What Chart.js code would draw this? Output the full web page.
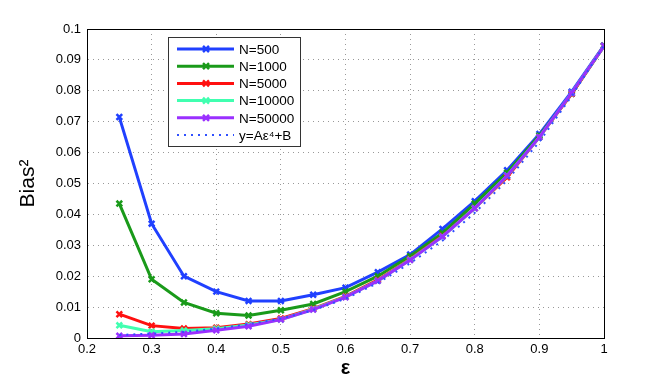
<!DOCTYPE html>
<html>
<head>
<meta charset="utf-8">
<script src="https://cdn.jsdelivr.net/npm/chart.js@4/dist/chart.umd.min.js"></script>
<style>
  html, body { margin: 0; padding: 0; background: #fff; }
  #wrap { width: 664px; height: 382px; position: relative; }
</style>
</head>
<body>
<div id="wrap"><canvas id="chart"></canvas></div>
<script>
// --- DADOS ---
const epsilon = [0.25, 0.3, 0.35, 0.4, 0.45, 0.5, 0.55, 0.6, 0.65, 0.7, 0.75, 0.8, 0.85, 0.9, 0.95, 1.0];
const n500   = [0.0715, 0.037, 0.020, 0.015, 0.012, 0.012, 0.014, 0.0163, 0.0213, 0.027, 0.0353, 0.0443, 0.0543, 0.066, 0.0797, 0.0947];
const n1000  = [0.0435, 0.019, 0.0115, 0.008, 0.0073, 0.009, 0.011, 0.015, 0.020, 0.0265, 0.034, 0.0435, 0.0535, 0.0655, 0.079, 0.0945];
const n5000  = [0.0077, 0.004, 0.0031, 0.0033, 0.0045, 0.0063, 0.0095, 0.0135, 0.0188, 0.0255, 0.033, 0.042, 0.052, 0.065, 0.079, 0.0945];
const n10000 = [0.0041, 0.002, 0.0024, 0.003, 0.0042, 0.006, 0.0093, 0.0133, 0.0185, 0.0253, 0.0328, 0.042, 0.0525, 0.065, 0.0793, 0.0945];
const n50000 = [0.0007, 0.0009, 0.0013, 0.0025, 0.0038, 0.006, 0.0092, 0.0132, 0.0185, 0.0252, 0.0328, 0.042, 0.0525, 0.065, 0.0793, 0.0945];
const fitCurve = [0.001, 0.0014, 0.002, 0.003, 0.0045, 0.0063, 0.009, 0.0127, 0.0178, 0.0242, 0.0315, 0.0405, 0.051, 0.0635, 0.0783, 0.0946];

const seriesLabels = ['N=500', 'N=1000', 'N=5000', 'N=10000', 'N=50000', 'y=A\u03B5\u2074+B'];
const seriesColors = ['#2040ff', '#1a9a1a', '#ff1010', '#40ffb0', '#9a30ff', '#3050ff'];
const seriesValues = [n500, n1000, n5000, n10000, n50000, fitCurve];

const xTicks = [0.2, 0.3, 0.4, 0.5, 0.6, 0.7, 0.8, 0.9, 1.0];
const yTicks = [0, 0.01, 0.02, 0.03, 0.04, 0.05, 0.06, 0.07, 0.08, 0.09, 0.1];

const FONT = 'Liberation Sans, Arial, sans-serif';

const datasets = seriesValues.map((vals, i) => {
    const isFit = i === 5;
    return {
        label: seriesLabels[i],
        data: vals.map((v, k) => ({ x: epsilon[k], y: v })),
        borderColor: seriesColors[i],
        backgroundColor: seriesColors[i],
        borderWidth: isFit ? 2 : 3,
        borderDash: isFit ? [2, 5] : [],
        pointStyle: 'crossRot',
        pointRadius: isFit ? 0 : 4,
        pointBorderWidth: 2.5,
        tension: 0,
        fill: false,
        order: isFit ? 0 : 5 - i
    };
});

// moldura + legenda estilo MATLAB
const framePlugin = {
    id: 'frame',
    afterDraw(chart) {
        const { ctx, chartArea: a } = chart;
        ctx.save();
        ctx.strokeStyle = '#000';
        ctx.lineWidth = 1;
        ctx.strokeRect(a.left + 0.5, a.top + 0.5, a.right - a.left, a.bottom - a.top);

        // legenda
        const lx = 168, ly = 37, lw = 132, lh = 109;
        ctx.fillStyle = '#fff';
        ctx.fillRect(lx, ly, lw, lh);
        ctx.strokeStyle = '#333';
        ctx.strokeRect(lx + 0.5, ly + 0.5, lw, lh);
        ctx.font = '13.5px ' + FONT;
        ctx.textBaseline = 'middle';
        for (let i = 0; i < seriesLabels.length; i++) {
            const y = ly + 12 + i * 17.2;
            ctx.strokeStyle = seriesColors[i];
            ctx.lineWidth = i === 5 ? 2 : 3;
            ctx.setLineDash(i === 5 ? [2, 5] : []);
            ctx.beginPath();
            ctx.moveTo(lx + 9, y);
            ctx.lineTo(lx + 66, y);
            ctx.stroke();
            ctx.setLineDash([]);
            if (i < 5) {
                ctx.lineWidth = 2.5;
                const cx = lx + 38, r = 3;
                ctx.beginPath();
                ctx.moveTo(cx - r, y - r); ctx.lineTo(cx + r, y + r);
                ctx.moveTo(cx + r, y - r); ctx.lineTo(cx - r, y + r);
                ctx.stroke();
            }
            ctx.fillStyle = '#000';
            ctx.fillText(seriesLabels[i], lx + 71, y + 1);
        }
        ctx.restore();
    }
};

new Chart(document.getElementById('chart'), {
    type: 'line',
    data: { datasets: datasets },
    options: {
        responsive: true,
        maintainAspectRatio: false,
        animation: false,
        layout: { padding: { top: 29, right: 60, left: 0, bottom: 0 } },
        plugins: { legend: { display: false }, tooltip: { enabled: false } },
        scales: {
            x: {
                type: 'linear',
                min: 0.2, max: 1.0,
                afterBuildTicks: (s) => { s.ticks = xTicks.map(v => ({ value: v })); },
                afterFit: (s) => { s.height = 44; },
                ticks: {
                    color: '#000',
                    font: { family: FONT, size: 13 },
                    padding: 4,
                    maxRotation: 0,
                    callback: (v) => String(Number(v.toFixed(1)))
                },
                grid: { color: '#999', drawTicks: false },
                border: { color: '#000', dash: [1, 4] },
                title: { display: true, text: '\u03B5', color: '#000', font: { family: FONT, size: 20, weight: 'bold' }, padding: { top: 0, bottom: 2 } }
            },
            y: {
                type: 'linear',
                min: 0, max: 0.1,
                afterBuildTicks: (s) => { s.ticks = yTicks.map(v => ({ value: v })); },
                afterFit: (s) => { s.width = 87; },
                ticks: {
                    color: '#000',
                    font: { family: FONT, size: 13 },
                    padding: 6,
                    callback: (v) => String(Number(v.toFixed(2)))
                },
                grid: { color: '#999', drawTicks: false },
                border: { color: '#000', dash: [1, 4] },
                title: { display: true, text: 'Bias\u00B2', color: '#000', font: { family: FONT, size: 21 }, padding: { top: 16, bottom: 8 } }
            }
        }
    },
    plugins: [framePlugin]
});
</script>
</body>
</html>
